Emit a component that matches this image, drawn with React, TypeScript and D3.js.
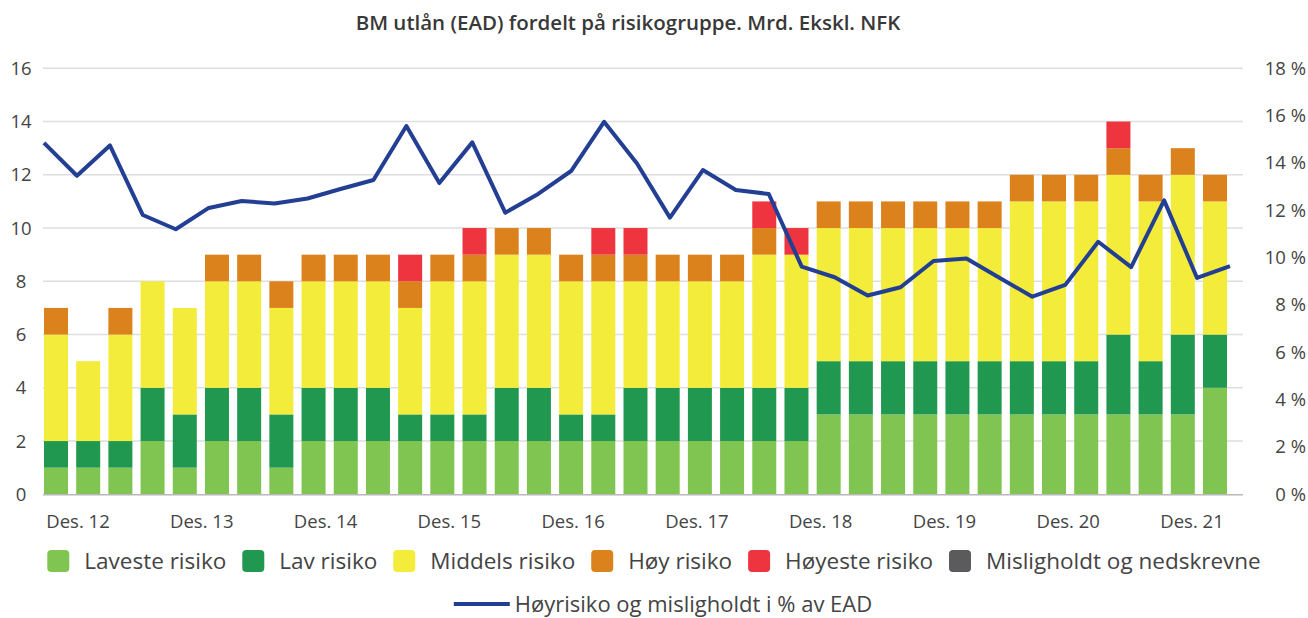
import React, { useEffect, useRef } from "react";
import * as d3 from "d3";

const categories = [
  "Des. 12", "Mar. 13", "Jun. 13", "Sep. 13", "Des. 13", "Mar. 14", "Jun. 14", "Sep. 14",
  "Des. 14", "Mar. 15", "Jun. 15", "Sep. 15", "Des. 15", "Mar. 16", "Jun. 16", "Sep. 16",
  "Des. 16", "Mar. 17", "Jun. 17", "Sep. 17", "Des. 17", "Mar. 18", "Jun. 18", "Sep. 18",
  "Des. 18", "Mar. 19", "Jun. 19", "Sep. 19", "Des. 19", "Mar. 20", "Jun. 20", "Sep. 20",
  "Des. 20", "Mar. 21", "Jun. 21", "Sep. 21", "Des. 21",
];

const tickLabels = ["Des. 12", "Des. 13", "Des. 14", "Des. 15", "Des. 16", "Des. 17", "Des. 18", "Des. 19", "Des. 20", "Des. 21"];

const laveste = [1, 1, 1, 2, 1, 2, 2, 1, 2, 2, 2, 2, 2, 2, 2, 2, 2, 2, 2, 2, 2, 2, 2, 2, 3, 3, 3, 3, 3, 3, 3, 3, 3, 3, 3, 3, 4];
const lav = [1, 1, 1, 2, 2, 2, 2, 2, 2, 2, 2, 1, 1, 1, 2, 2, 1, 1, 2, 2, 2, 2, 2, 2, 2, 2, 2, 2, 2, 2, 2, 2, 2, 3, 2, 3, 2];
const middels = [4, 3, 4, 4, 4, 4, 4, 4, 4, 4, 4, 4, 5, 5, 5, 5, 5, 5, 4, 4, 4, 4, 5, 5, 5, 5, 5, 5, 5, 5, 6, 6, 6, 6, 6, 6, 5];
const hoy = [1, 0, 1, 0, 0, 1, 1, 1, 1, 1, 1, 1, 1, 1, 1, 1, 1, 1, 1, 1, 1, 1, 1, 0, 1, 1, 1, 1, 1, 1, 1, 1, 1, 1, 1, 1, 1];
const hoyeste = [0, 0, 0, 0, 0, 0, 0, 0, 0, 0, 0, 1, 0, 1, 0, 0, 0, 1, 1, 0, 0, 0, 1, 1, 0, 0, 0, 0, 0, 0, 0, 0, 0, 1, 0, 0, 0];
const misligholdt = [0, 0, 0, 0, 0, 0, 0, 0, 0, 0, 0, 0, 0, 0, 0, 0, 0, 0, 0, 0, 0, 0, 0, 0, 0, 0, 0, 0, 0, 0, 0, 0, 0, 0, 0, 0, 0];

const hoyrisikoPct = [
  14.85, 13.46, 14.74, 11.8, 11.2, 12.1, 12.39, 12.29, 12.5, 12.9, 13.28, 15.56, 13.15,
  14.87, 11.9, 12.69, 13.66, 15.74, 13.98, 11.69, 13.7, 12.86, 12.69, 9.62, 9.17, 8.4,
  8.75, 9.86, 9.96, 9.15, 8.35, 8.85, 10.67, 9.6, 12.42, 9.14, 9.64,
];

const seriesNames = ["Laveste risiko", "Lav risiko", "Middels risiko", "Høy risiko", "Høyeste risiko", "Misligholdt og nedskrevne"];
const seriesData = [laveste, lav, middels, hoy, hoyeste, misligholdt];
const seriesColors = ["#80c451", "#209850", "#f3ec3a", "#dc821d", "#ee343f", "#5b5b5d"];
const lineName = "Høyrisiko og misligholdt i % av EAD";
const lineColor = "#233f94";

const leftTicks = [0, 2, 4, 6, 8, 10, 12, 14, 16];
const rightTicks = [0, 2, 4, 6, 8, 10, 12, 14, 16, 18];

const W = 1308;
const H = 618;
const FONT = "'Open Sans', sans-serif";

export default function App() {
  const ref = useRef<SVGSVGElement>(null);

  useEffect(() => {
    const svg = d3.select(ref.current);
    svg.selectAll("*").remove();

    const plotL = 43, plotR = 1243, plotT = 68.3, plotB = 494.3;
    const yL = d3.scaleLinear().domain([0, 16]).range([plotB, plotT]);
    const yR = d3.scaleLinear().domain([0, 18]).range([plotB, plotT]);
    const xBar = d3.scalePoint<string>().domain(categories).range([56, 1215]);
    const xLine = d3.scalePoint<string>().domain(categories).range([44, 1230]);
    const xLab = d3.scalePoint<string>().domain(tickLabels).range([78, 1192]);
    const barW = 24;

    // title
    svg.append("text")
      .attr("x", 628).attr("y", 30)
      .attr("text-anchor", "middle")
      .attr("font-family", FONT).attr("font-size", 20.5).attr("font-weight", 600)
      .attr("fill", "#383838")
      .text("BM utlån (EAD) fordelt på risikogruppe. Mrd. Ekskl. NFK");

    // gridlines
    svg.append("g").selectAll("line").data(leftTicks.filter((t) => t > 0)).join("line")
      .attr("x1", plotL).attr("x2", plotR)
      .attr("y1", (d) => yL(d)).attr("y2", (d) => yL(d))
      .attr("stroke", "#dedede").attr("stroke-width", 1.5);

    // left tick labels
    svg.append("g").selectAll("text").data(leftTicks).join("text")
      .attr("x", 21).attr("y", (d) => yL(d)).attr("dy", "0.35em")
      .attr("text-anchor", "middle")
      .attr("font-family", FONT).attr("font-size", 18.5).attr("fill", "#444")
      .text((d) => String(d));

    // right tick labels
    svg.append("g").selectAll("text").data(rightTicks).join("text")
      .attr("x", 1306).attr("y", (d) => yR(d)).attr("dy", "0.35em")
      .attr("text-anchor", "end")
      .attr("font-family", FONT).attr("font-size", 18.5).attr("fill", "#444")
      .text((d) => `${d} %`);

    // stacked bars
    const rows = categories.map((c, i) => {
      const r: Record<string, number | string> = { cat: c };
      seriesNames.forEach((n, k) => (r[n] = seriesData[k][i]));
      return r;
    });
    const stack = d3.stack<any>().keys(seriesNames);
    const stacked = stack(rows as any);
    const gBars = svg.append("g");
    stacked.forEach((layer, k) => {
      gBars.append("g").attr("fill", seriesColors[k])
        .selectAll("rect").data(layer.filter((d) => d[1] - d[0] > 0)).join("rect")
        .attr("x", (d) => (xBar(d.data.cat as string) as number) - barW / 2)
        .attr("width", barW)
        .attr("y", (d) => yL(d[1]))
        .attr("height", (d) => yL(d[0]) - yL(d[1]));
    });

    // baseline
    svg.append("line")
      .attr("x1", plotL).attr("x2", plotR)
      .attr("y1", yL(0) + 0.5).attr("y2", yL(0) + 0.5)
      .attr("stroke", "#b8b8b8").attr("stroke-width", 1.5);

    // line
    const line = d3.line<number>()
      .x((_, i) => xLine(categories[i]) as number)
      .y((d) => yR(d));
    svg.append("path")
      .datum(hoyrisikoPct)
      .attr("d", line)
      .attr("fill", "none")
      .attr("stroke", lineColor)
      .attr("stroke-width", 4)
      .attr("stroke-linejoin", "round")
      .attr("stroke-linecap", "butt");

    // x labels
    svg.append("g").selectAll("text").data(tickLabels).join("text")
      .attr("x", (d) => xLab(d) as number).attr("y", 522).attr("dy", "0.35em")
      .attr("text-anchor", "middle")
      .attr("font-family", FONT).attr("font-size", 18.5).attr("fill", "#444")
      .text((d) => d);

    // legend row 1
    const legY = 561;
    const sq = 22, gapSqText = 15, gapItem = 16;
    const legFont = 22.5;
    const leg = svg.append("g");
    const items = seriesNames.map((n, k) => {
      const g = leg.append("g");
      g.append("rect").attr("width", sq).attr("height", sq).attr("rx", 4)
        .attr("y", legY - sq / 2).attr("fill", seriesColors[k]);
      const t = g.append("text")
        .attr("x", sq + gapSqText).attr("y", legY).attr("dy", "0.35em")
        .attr("font-family", FONT).attr("font-size", legFont).attr("fill", "#444")
        .text(n);
      const w = (t.node() as SVGTextElement).getComputedTextLength();
      return { g, w: sq + gapSqText + w };
    });
    const total = d3.sum(items, (d) => d.w) + gapItem * (items.length - 1);
    let cx = 654 - total / 2;
    items.forEach((it) => {
      it.g.attr("transform", `translate(${cx},0)`);
      cx += it.w + gapItem;
    });

    // legend row 2
    const leg2Y = 604;
    const g2 = svg.append("g");
    g2.append("line").attr("x1", 0).attr("x2", 56).attr("y1", leg2Y).attr("y2", leg2Y)
      .attr("stroke", lineColor).attr("stroke-width", 4);
    const t2 = g2.append("text").attr("x", 61).attr("y", leg2Y).attr("dy", "0.35em")
      .attr("font-family", FONT).attr("font-size", 22).attr("fill", "#444")
      .text(lineName);
    const w2 = 61 + (t2.node() as SVGTextElement).getComputedTextLength();
    g2.attr("transform", `translate(${663 - w2 / 2},0)`);
  }, []);

  return (
    <svg
      ref={ref}
      width={W}
      height={H}
      style={{ position: "absolute", left: 0, top: 0, background: "#fff", display: "block" }}
    />
  );
}
